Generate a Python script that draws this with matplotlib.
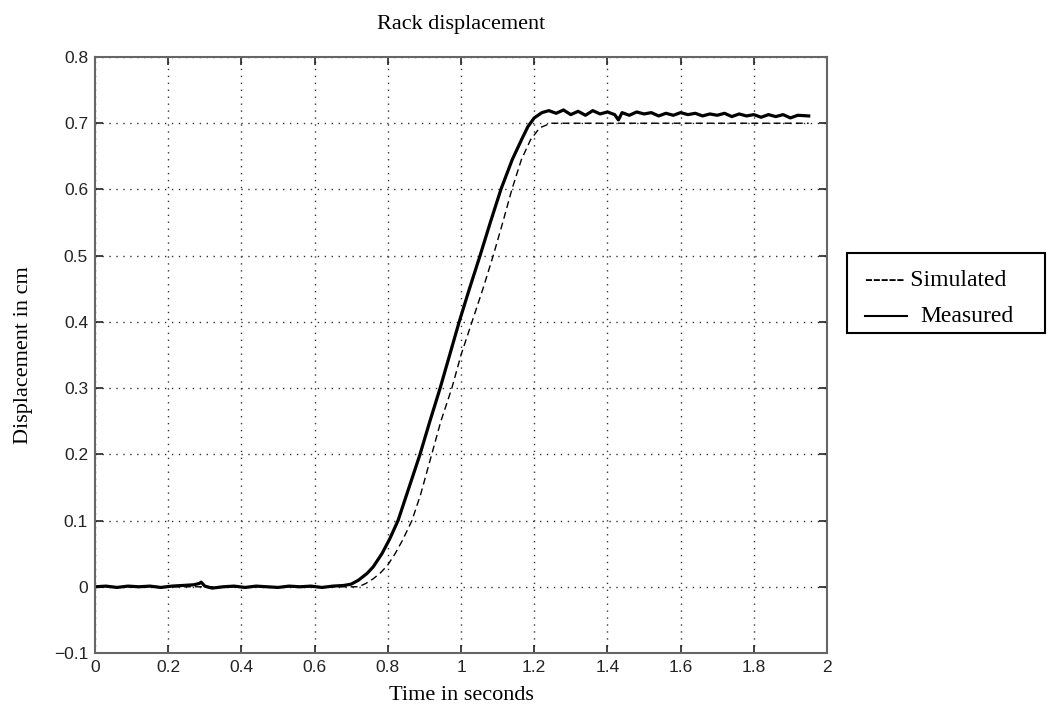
import matplotlib
matplotlib.use('Agg')
import matplotlib.pyplot as plt
from matplotlib.patches import Rectangle
from matplotlib.lines import Line2D


# simulated response
sim_t = [0.0, 0.72, 0.74, 0.76, 0.78, 0.80, 0.82, 0.84, 0.866, 0.89, 0.92, 0.945,
         0.975, 1.00, 1.03, 1.06, 1.088, 1.114, 1.139, 1.165, 1.19, 1.215, 1.245, 1.95]
sim_v = [0.0, 0.0, 0.005, 0.012, 0.021, 0.033, 0.050, 0.070, 0.100, 0.140, 0.200, 0.250,
         0.300, 0.350, 0.400, 0.450, 0.500, 0.550, 0.600, 0.645, 0.675, 0.693, 0.700, 0.700]

# measured response
meas_t = [0.0, 0.03, 0.06, 0.09, 0.12, 0.15, 0.18, 0.21, 0.24, 0.27, 0.285, 0.29, 0.30,
          0.32, 0.35, 0.38, 0.41, 0.44, 0.47, 0.50, 0.53, 0.56, 0.59, 0.62, 0.65, 0.68,
          0.70, 0.72, 0.743, 0.76, 0.784, 0.805, 0.828, 0.858, 0.888, 0.915, 0.943,
          0.969, 0.995, 1.023, 1.052, 1.08, 1.109, 1.14, 1.167, 1.183, 1.20, 1.221,
          1.24, 1.26, 1.28, 1.30, 1.32, 1.34, 1.36, 1.38, 1.40, 1.42, 1.43, 1.44,
          1.46, 1.48, 1.50, 1.52, 1.54, 1.56, 1.58, 1.60, 1.62, 1.64, 1.66, 1.68,
          1.70, 1.72, 1.74, 1.76, 1.78, 1.80, 1.82, 1.84, 1.86, 1.88, 1.90, 1.92, 1.95]
meas_v = [0.0, 0.001, -0.001, 0.001, 0.0, 0.001, -0.001, 0.001, 0.002, 0.003, 0.005, 0.007, 0.001,
          -0.002, 0.0, 0.001, -0.001, 0.001, 0.0, -0.001, 0.001, 0.0, 0.001, -0.001, 0.001, 0.002,
          0.004, 0.010, 0.020, 0.030, 0.050, 0.072, 0.100, 0.150, 0.200, 0.250, 0.300,
          0.350, 0.400, 0.450, 0.500, 0.550, 0.600, 0.645, 0.677, 0.695, 0.708, 0.716,
          0.719, 0.715, 0.720, 0.713, 0.718, 0.712, 0.719, 0.714, 0.717, 0.713, 0.705, 0.716,
          0.712, 0.717, 0.714, 0.716, 0.711, 0.715, 0.712, 0.716, 0.713, 0.715, 0.711, 0.714,
          0.712, 0.715, 0.710, 0.714, 0.711, 0.713, 0.709, 0.713, 0.710, 0.713, 0.708, 0.712, 0.711]

x_ticks = [0, 0.2, 0.4, 0.6, 0.8, 1, 1.2, 1.4, 1.6, 1.8, 2]
x_labels = ['0', '0.2', '0.4', '0.6', '0.8', '1', '1.2', '1.4', '1.6', '1.8', '2']
y_ticks = [-0.1, 0, 0.1, 0.2, 0.3, 0.4, 0.5, 0.6, 0.7, 0.8]
y_labels = ['\u22120.1', '0', '0.1', '0.2', '0.3', '0.4', '0.5', '0.6', '0.7', '0.8']

W, H = 1048, 719
fig = plt.figure(figsize=(W / 100, H / 100), dpi=100)
ax = fig.add_axes([95 / W, 1 - 653 / H, (827 - 95) / W, (653 - 57) / H])

ax.plot(sim_t, sim_v, color='black', lw=1.0, ls=(0, (5, 3)))
ax.plot(meas_t, meas_v, color='black', lw=2.3)

ax.set_xlim(0, 2)
ax.set_ylim(-0.1, 0.8)
ax.set_xticks(x_ticks)
ax.set_xticklabels(x_labels)
ax.set_yticks(y_ticks)
ax.set_yticklabels(y_labels)
ax.tick_params(direction='in', length=6, width=1.2, top=True, right=True,
               labelsize=12.5, colors='#222222', pad=5)
for lab in ax.get_xticklabels() + ax.get_yticklabels():
    lab.set_family('Liberation Sans')
for s in ax.spines.values():
    s.set_color('#666666')
    s.set_linewidth(1.5)
ax.grid(True, color='#333333', ls=(0, (1, 4)), lw=1.0)

serif = 'Liberation Serif'
ax.set_title('Rack displacement', family=serif, fontsize=16, pad=20)
ax.set_xlabel('Time in seconds', family=serif, fontsize=16, labelpad=8)
ax.set_ylabel('Displacement in cm', family=serif, fontsize=16, labelpad=15)

# legend box drawn in figure pixels
box = Rectangle((847 / W, 1 - 333 / H), (1045 - 847) / W, (333 - 253) / H,
                transform=fig.transFigure, fill=False, ec='black', lw=1.5)
fig.patches.append(box)
fig.text(865 / W, 1 - 286 / H, '----- Simulated', family=serif, fontsize=17,
         va='baseline', ha='left')
fig.lines.append(Line2D([865 / W, 907 / W], [1 - 316 / H, 1 - 316 / H],
                        transform=fig.transFigure, color='black', lw=1.5))
fig.text(920 / W, 1 - 322 / H, 'Measured', family=serif, fontsize=17,
         va='baseline', ha='left')

fig.savefig('out.png', dpi=100)
